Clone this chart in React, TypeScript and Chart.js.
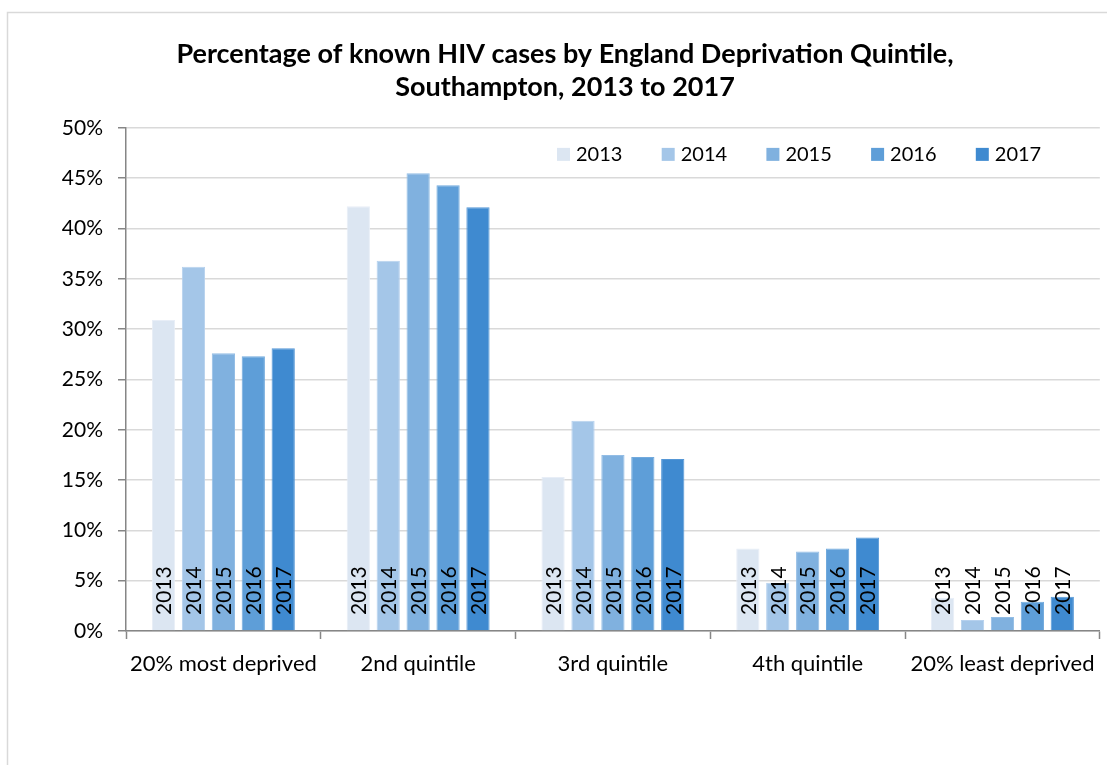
import React, { useEffect, useRef } from "react";
import { Chart, registerables } from "chart.js";

Chart.register(...registerables);

const categories = [
  "20% most deprived",
  "2nd quintile",
  "3rd quintile",
  "4th quintile",
  "20% least deprived",
];

const years = ["2013", "2014", "2015", "2016", "2017"];

const values2013 = [30.9, 42.2, 15.3, 8.2, 3.3];
const values2014 = [36.2, 36.8, 20.9, 4.8, 1.1];
const values2015 = [27.6, 45.5, 17.5, 7.9, 1.4];
const values2016 = [27.3, 44.3, 17.3, 8.2, 2.9];
const values2017 = [28.1, 42.1, 17.1, 9.3, 3.4];

const seriesValues = [values2013, values2014, values2015, values2016, values2017];
const seriesColors = ["#dce6f2", "#a4c6e8", "#80b1df", "#5e9ed8", "#3f8ad0"];
const seriesEdges = ["#e8eef7", "#b6d1ee", "#93bde5", "#72aadd", "#5597d6"];

const yTicks = [0, 5, 10, 15, 20, 25, 30, 35, 40, 45, 50];

const titleLines = [
  "Percentage of known HIV cases by England Deprivation Quintile,",
  "Southampton, 2013 to 2017",
];

const FONT = "Lato, 'Open Sans', sans-serif";

// White backdrop plus the thin frame round the chart object
const framePlugin = {
  id: "frame",
  beforeDraw(chart: any) {
    const { ctx, width, height } = chart;
    ctx.save();
    ctx.fillStyle = "#ffffff";
    ctx.fillRect(0, 0, width, height);
    ctx.strokeStyle = "#d9d9d9";
    ctx.lineWidth = 1.5;
    ctx.strokeRect(7.5, 12.5, width + 20, height + 20);
    ctx.restore();
  },
};

// Year written upright at the foot of every bar
const yearLabelPlugin = {
  id: "yearLabels",
  afterDatasetsDraw(chart: any) {
    const { ctx, chartArea } = chart;
    ctx.save();
    ctx.fillStyle = "#000000";
    ctx.font = `21px ${FONT}`;
    ctx.textAlign = "left";
    ctx.textBaseline = "middle";
    chart.data.datasets.forEach((ds: any, i: number) => {
      const meta = chart.getDatasetMeta(i);
      meta.data.forEach((bar: any) => {
        ctx.save();
        ctx.translate(bar.x + 1, chartArea.bottom - 16);
        ctx.rotate(-Math.PI / 2);
        ctx.fillText(ds.label, 0, 0);
        ctx.restore();
      });
    });
    ctx.restore();
  },
};

// Legend row sitting inside the plot, top right
const insideLegendPlugin = {
  id: "insideLegend",
  afterDraw(chart: any) {
    const { ctx, chartArea } = chart;
    ctx.save();
    ctx.font = `20px ${FONT}`;
    ctx.textAlign = "left";
    ctx.textBaseline = "middle";
    const startX = chartArea.left + 431;
    const y = chartArea.top + 27;
    const step = 104.7;
    chart.data.datasets.forEach((ds: any, i: number) => {
      const x = startX + i * step;
      ctx.fillStyle = ds.backgroundColor;
      ctx.fillRect(x, y - 7, 13, 13);
      ctx.fillStyle = "#000000";
      ctx.fillText(ds.label, x + 19, y);
    });
    ctx.restore();
  },
};

export default function App() {
  const canvasRef = useRef<HTMLCanvasElement | null>(null);

  useEffect(() => {
    if (!canvasRef.current) return;
    const chart = new Chart(canvasRef.current, {
      type: "bar",
      data: {
        labels: categories,
        datasets: years.map((year, i) => ({
          label: year,
          data: seriesValues[i],
          backgroundColor: seriesColors[i],
          borderColor: seriesEdges[i],
          borderWidth: 1,
          categoryPercentage: 0.768,
          barPercentage: 0.777,
        })),
      },
      options: {
        responsive: false,
        animation: false,
        devicePixelRatio: 1,
        layout: { padding: { left: 28, right: 5, top: 0, bottom: 74 } },
        plugins: {
          legend: { display: false },
          tooltip: { enabled: false },
          title: {
            display: true,
            text: titleLines,
            color: "#000000",
            font: { family: FONT, size: 27, weight: "bold", lineHeight: 1.22 },
            padding: { top: 38, bottom: 24 },
          },
        },
        scales: {
          x: {
            offset: true,
            grid: {
              offset: true,
              drawOnChartArea: false,
              drawTicks: true,
              tickLength: 8,
              tickColor: "#868686",
              tickWidth: 1.5,
            },
            border: { color: "#868686", width: 1.5 },
            ticks: {
              color: "#000000",
              font: { family: FONT, size: 22 },
              padding: 12,
              maxRotation: 0,
            },
            afterFit(scale: any) {
              scale.height = 60;
            },
          },
          y: {
            min: 0,
            max: 50,
            afterBuildTicks(scale: any) {
              scale.ticks = yTicks.map((v) => ({ value: v }));
            },
            grid: {
              color: "#d9d9d9",
              lineWidth: 1.5,
              tickLength: 8,
              tickColor: "#868686",
              tickWidth: 1.5,
            },
            border: { color: "#868686", width: 1.5 },
            ticks: {
              color: "#000000",
              font: { family: FONT, size: 21 },
              padding: 15,
              callback: (v: any) => `${v}%`,
            },
            afterFit(scale: any) {
              scale.width = 98;
            },
          },
        },
      },
      plugins: [framePlugin, yearLabelPlugin, insideLegendPlugin],
    });
    return () => chart.destroy();
  }, []);

  return (
    <div style={{ position: "absolute", left: 0, top: 0, width: 1107, height: 765, overflow: "hidden" }}>
      <canvas ref={canvasRef} width={1107} height={765} style={{ display: "block" }} />
    </div>
  );
}
